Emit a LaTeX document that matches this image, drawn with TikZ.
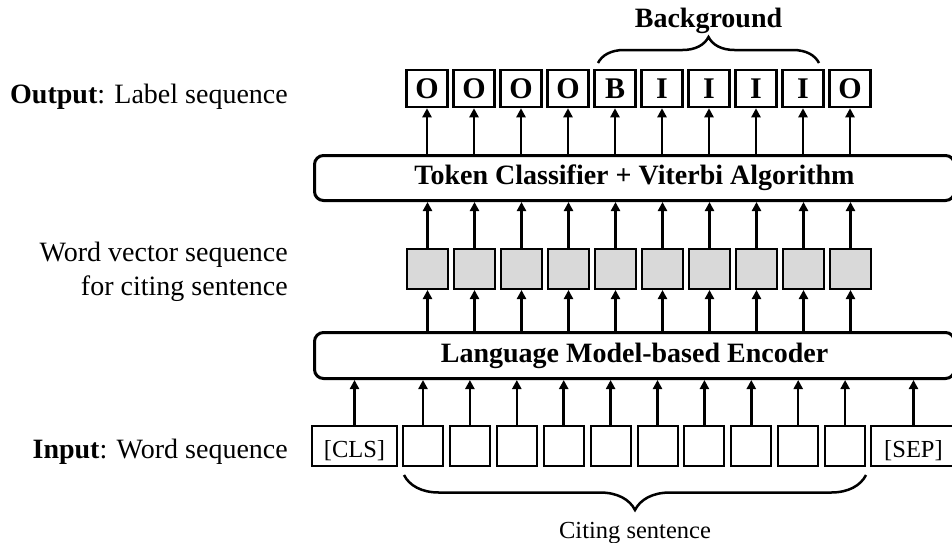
\documentclass[tikz,border=0pt]{standalone}
\usepackage{fontspec}
\setmainfont{Liberation Serif}
\usetikzlibrary{arrows.meta,decorations.pathreplacing}
\definecolor{cellgray}{HTML}{D9D9D9}
\begin{document}
\begin{tikzpicture}[x=1pt,y=-1pt,
  labbox/.style={draw, line width=2.5pt, minimum width=41pt, minimum height=37pt, inner sep=0pt, font=\fontsize{30}{34}\selectfont\bfseries},
  vecbox/.style={draw, line width=2pt, fill=cellgray, minimum width=41pt, minimum height=40pt, inner sep=0pt},
  tokbox/.style={draw, line width=2pt, minimum width=40pt, minimum height=40pt, inner sep=0pt, font=\fontsize{24.5}{28}\selectfont},
  specbox/.style={tokbox, minimum width=85pt, text height=22pt, text depth=0pt},
  bigbox/.style={draw, line width=3pt, rounded corners=9pt, minimum width=640pt, minimum height=45pt, inner sep=0pt, font=\fontsize{28}{34}\selectfont\bfseries},
  arr/.style={line width=2.5pt, -{Triangle[width=9pt,length=9pt]}},
  brc/.style={line width=2.5pt, decorate, decoration={brace, amplitude=#1}},
  sidelabel/.style={anchor=base east, align=right, font=\fontsize{28}{34}\selectfont, inner sep=0pt}
]
\useasboundingbox (0,0) rectangle (952,542);
\clip (0,0) rectangle (952,542);

% big processing boxes
\node[bigbox] (tok) at (634.5,178) {Token Classifier + Viterbi Algorithm};
\node[bigbox, minimum height=46pt] (enc) at (634.5,355.5) {Language Model-based Encoder};

% label boxes and word vectors
\foreach \t [count=\i from 0] in {O,O,O,O,B,I,I,I,I,O} {
  \node[labbox] (lab\i) at ({427+47*\i},88.5) {\t};
  \node[vecbox] (vec\i) at ({427.5+47*\i},269) {};
  \draw[arr] (tok.north -| lab\i) -- (lab\i.south);
  \draw[arr] (vec\i.north) -- (tok.south -| vec\i);
  \draw[arr] (enc.north -| vec\i) -- (vec\i.south);
}

% input tokens
\node[specbox] (cls) at (354.5,446) {[CLS]};
\draw[arr] (cls.north) -- (enc.south -| cls);
\foreach \i in {0,...,9} {
  \node[tokbox] (w\i) at ({423+46.9*\i},446) {};
  \draw[arr] (w\i.north) -- (enc.south -| w\i);
}
\node[specbox] (sep) at (913.5,446) {[SEP]};
\draw[arr] (sep.north) -- (enc.south -| sep);

% braces
\coordinate (bgL) at (598,63);
\coordinate (bgR) at (819,63);
\draw[brc=26pt] (bgL) -- (bgR);
\node[anchor=base, inner sep=0pt, font=\fontsize{28}{34}\selectfont\bfseries] (bg) at (708.5,27) {Background};

\coordinate (csR) at (866,475);
\coordinate (csL) at (404,475);
\draw[brc=35pt] (csR) -- (csL);
\node[anchor=base, inner sep=0pt, font=\fontsize{24.5}{28}\selectfont] (cite) at (635,538) {Citing sentence};

% side labels
\node[sidelabel] (outlbl) at (288,103) {\textbf{Output}: Label sequence};
\node[sidelabel] (veclbl) at (288,295) {Word vector sequence\\for citing sentence};
\node[sidelabel] (inlbl) at (288,458) {\textbf{Input}: Word sequence};
\end{tikzpicture}
\end{document}
